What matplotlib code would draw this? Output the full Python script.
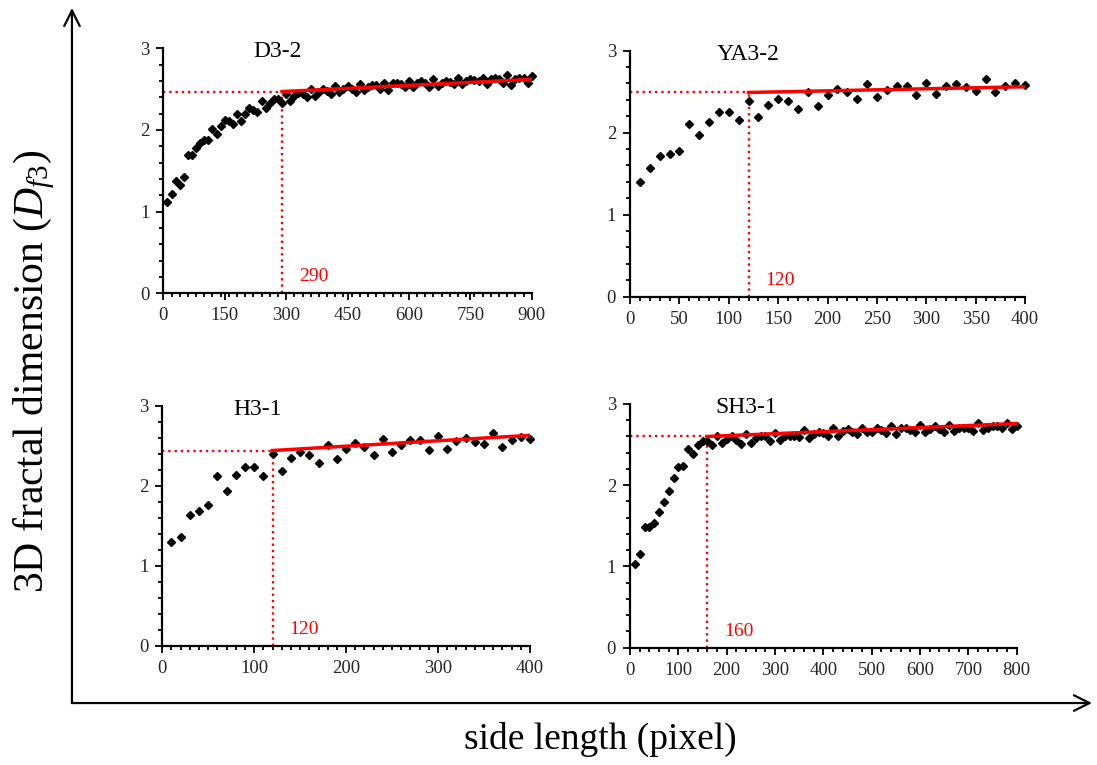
import numpy as np
import matplotlib
matplotlib.use("Agg")
import matplotlib.pyplot as plt
from matplotlib.ticker import MultipleLocator

plt.rcParams["font.family"] = "Liberation Serif"
plt.rcParams["mathtext.fontset"] = "custom"
plt.rcParams["mathtext.rm"] = "Liberation Serif"
plt.rcParams["mathtext.it"] = "Liberation Serif:italic"

RED = "#ff0000"

# box side length steps (pixel), one point every 10 px
x_d32 = np.arange(10, 910, 10)
x_ya32 = np.arange(10, 410, 10)
x_h31 = np.arange(10, 410, 10)
x_sh31 = np.arange(10, 810, 10)

# 3D fractal dimension
df_d32 = [1.12, 1.22, 1.37, 1.33, 1.42, 1.69, 1.69, 1.78, 1.84, 1.88,
          1.88, 2.01, 1.95, 2.05, 2.12, 2.11, 2.07, 2.20, 2.11, 2.20,
          2.27, 2.25, 2.22, 2.35, 2.27, 2.33, 2.38, 2.38, 2.33, 2.44,
          2.36, 2.42, 2.45, 2.44, 2.40, 2.50, 2.42, 2.46, 2.50, 2.48,
          2.44, 2.54, 2.46, 2.50, 2.54, 2.50, 2.47, 2.56, 2.49, 2.52,
          2.55, 2.55, 2.50, 2.58, 2.49, 2.57, 2.57, 2.56, 2.52, 2.60,
          2.53, 2.57, 2.60, 2.58, 2.52, 2.62, 2.54, 2.58, 2.60, 2.59,
          2.56, 2.64, 2.56, 2.60, 2.62, 2.61, 2.60, 2.64, 2.56, 2.62,
          2.64, 2.62, 2.58, 2.67, 2.55, 2.62, 2.64, 2.64, 2.58, 2.66]
df_ya32 = [1.40, 1.57, 1.72, 1.74, 1.78, 2.11, 1.97, 2.13, 2.25, 2.25,
           2.15, 2.38, 2.19, 2.34, 2.41, 2.38, 2.29, 2.50, 2.33, 2.46,
           2.53, 2.49, 2.41, 2.59, 2.43, 2.52, 2.57, 2.57, 2.46, 2.61,
           2.47, 2.57, 2.59, 2.56, 2.51, 2.65, 2.50, 2.57, 2.61, 2.58]
df_h31 = [1.30, 1.36, 1.64, 1.69, 1.76, 2.12, 1.94, 2.13, 2.24, 2.24,
          2.12, 2.40, 2.19, 2.35, 2.42, 2.39, 2.29, 2.51, 2.33, 2.46,
          2.53, 2.48, 2.39, 2.59, 2.42, 2.51, 2.57, 2.57, 2.45, 2.62,
          2.46, 2.56, 2.60, 2.55, 2.52, 2.66, 2.49, 2.57, 2.61, 2.59]
df_sh31 = [1.03, 1.15, 1.48, 1.49, 1.53, 1.67, 1.79, 1.93, 2.09, 2.22,
           2.24, 2.45, 2.39, 2.49, 2.54, 2.54, 2.49, 2.61, 2.52, 2.57,
           2.60, 2.56, 2.51, 2.63, 2.52, 2.58, 2.61, 2.61, 2.54, 2.64,
           2.56, 2.61, 2.61, 2.61, 2.59, 2.68, 2.58, 2.63, 2.65, 2.64,
           2.60, 2.70, 2.61, 2.67, 2.69, 2.65, 2.63, 2.71, 2.65, 2.66,
           2.70, 2.68, 2.64, 2.73, 2.63, 2.71, 2.71, 2.68, 2.65, 2.74,
           2.65, 2.69, 2.73, 2.69, 2.65, 2.74, 2.67, 2.70, 2.71, 2.71,
           2.67, 2.76, 2.68, 2.71, 2.73, 2.73, 2.71, 2.76, 2.69, 2.73]

# scale-free threshold (pixel) and linear fit ends (value at threshold, value at last point)
names = ["D3-2", "YA3-2", "H3-1", "SH3-1"]
thresholds = [290, 120, 120, 160]
fit_start = [2.47, 2.49, 2.44, 2.60]
fit_end = [2.62, 2.56, 2.63, 2.76]
x_max = [900, 400, 400, 800]
x_major = [150, 50, 100, 100]
x_minor = [20, 10, 10, 20]

xs = [x_d32, x_ya32, x_h31, x_sh31]
ys = [df_d32, df_ya32, df_h31, df_sh31]

# panel boxes in figure fraction [left, bottom, width, height]
boxes = [[0.1489, 0.6166, 0.3358, 0.3203],
         [0.5743, 0.6122, 0.3601, 0.3216],
         [0.1479, 0.1556, 0.3352, 0.3141],
         [0.5743, 0.1533, 0.3525, 0.3186]]
title_x = [0.31, 0.30, 0.26, 0.30]


def draw_panel(ax, i):
    x = xs[i]
    y = ys[i]
    thr = thresholds[i]

    ax.plot(x, y, linestyle="none", marker="D", markersize=3.6,
            color="black", clip_on=False, zorder=3)

    # threshold guide lines
    ax.plot([0, thr], [fit_start[i], fit_start[i]], linestyle=":",
            color=RED, linewidth=1.7, zorder=2)
    ax.plot([thr, thr], [0, fit_start[i]], linestyle=":",
            color=RED, linewidth=1.7, zorder=2)
    # linear fit over the scale-free range
    ax.plot([thr, x[-1]], [fit_start[i], fit_end[i]], color=RED,
            linewidth=2.5, zorder=4)

    ax.annotate(str(thr), xy=(thr, 0.2), xytext=(12, 0),
                textcoords="offset points", color=RED, fontsize=14,
                va="center", ha="left")
    ax.text(title_x[i], 0.985, names[i], transform=ax.transAxes,
            fontsize=17, ha="center", va="center")

    ax.set_xlim(0, x_max[i])
    ax.set_ylim(0, 3)
    ax.xaxis.set_major_locator(MultipleLocator(x_major[i]))
    ax.xaxis.set_minor_locator(MultipleLocator(x_minor[i]))
    ax.yaxis.set_major_locator(MultipleLocator(1))
    ax.yaxis.set_minor_locator(MultipleLocator(0.2))

    for side in ["top", "right"]:
        ax.spines[side].set_visible(False)
    for side in ["left", "bottom"]:
        ax.spines[side].set_linewidth(1.6)
        ax.spines[side].set_color("black")
    ax.tick_params(which="major", direction="out", length=5, width=1.3,
                   labelsize=13.5, labelcolor="#262626", pad=5)
    ax.tick_params(which="minor", direction="out", length=3, width=1.3)


fig = plt.figure(figsize=(10.97, 7.65), dpi=100)

for i in range(4):
    ax = fig.add_axes(boxes[i])
    draw_panel(ax, i)

# big common axes with arrows
arrow = dict(arrowstyle="->", color="black", linewidth=1.6,
             mutation_scale=28, shrinkA=0, shrinkB=0)
fig.add_artist(matplotlib.patches.FancyArrowPatch(
    (0.0656, 0.081), (0.0656, 0.9895), transform=fig.transFigure, **arrow))
fig.add_artist(matplotlib.patches.FancyArrowPatch(
    (0.0656, 0.081), (0.9954, 0.081), transform=fig.transFigure, **arrow))

fig.text(0.031, 0.515, r"3D fractal dimension ($D_{f3}$)", rotation=90,
         fontsize=30, ha="center", va="center")
fig.text(0.547, 0.033, "side length (pixel)", fontsize=27,
         ha="center", va="center")

fig.savefig("out.png", dpi=100)
